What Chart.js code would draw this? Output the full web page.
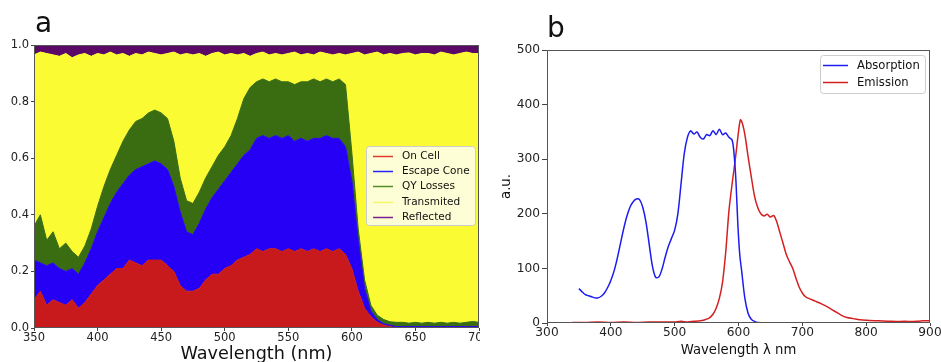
<!DOCTYPE html>
<html>
<head>
<meta charset="utf-8">
<script src="https://cdn.jsdelivr.net/npm/chart.js@4.4.0/dist/chart.umd.min.js"></script>
<style>
html, body { margin: 0; padding: 0; background: #fff; overflow: hidden; }
#wrap { position: relative; width: 941px; height: 362px; overflow: hidden; }
canvas { position: absolute; top: 0; }
.tag { position: absolute; font-family: 'DejaVu Sans'; font-size: 28px; color: #111; }
</style>
</head>
<body>
<div id="wrap">
  <canvas id="chartA" width="480" height="372" style="left:0"></canvas>
  <canvas id="chartB" width="461" height="362" style="left:480px"></canvas>
  <div class="tag" style="left:35px;top:6px">a</div>
  <div class="tag" style="left:547px;top:11px">b</div>
</div>
<script>
// panel a - light fate per wavelength (stacked fractions)
const wavelengths = [350,355,360,365,370,375,380,385,390,395,400,405,410,415,420,425,430,435,440,445,
  450,455,460,465,470,475,480,485,490,495,500,505,510,515,520,525,530,535,540,545,
  550,555,560,565,570,575,580,585,590,595,600,605,610,615,620,625,630,635,640,645,
  650,655,660,665,670,675,680,685,690,695,700];

const onCell = [.10,.13,.08,.10,.09,.08,.10,.07,.09,.12, .15,.17,.19,.21,.21,.24,.23,.22,.24,.24,
  .24,.22,.20,.15,.13,.13,.14,.17,.19,.19, .21,.22,.24,.25,.26,.28,.27,.28,.28,.27,
  .28,.27,.28,.27,.28,.27,.28,.27,.28,.26, .21,.13,.07,.04,.02,.01,.005,0,0,0,
  0,0,0,0,0,0,0,0,0,0,0];
const escapeCone = [.14,.10,.14,.13,.12,.12,.11,.12,.14,.16, .19,.22,.25,.27,.30,.30,.33,.35,.34,.35,
  .34,.34,.30,.26,.21,.20,.23,.25,.27,.30, .31,.33,.34,.36,.37,.39,.41,.39,.40,.40,
  .40,.39,.39,.39,.39,.40,.40,.40,.39,.38, .31,.18,.07,.02,.01,.005,.005,.005,.005,.005,
  .005,.005,.005,.005,.005,.005,.005,.005,.005,.005,.005];
const qyLosses = [.12,.17,.09,.11,.07,.10,.06,.06,.06,.07, .09,.11,.12,.13,.15,.16,.17,.17,.18,.18,
  .18,.18,.16,.12,.11,.11,.11,.11,.11,.12, .12,.13,.16,.20,.22,.20,.20,.20,.20,.20,
  .19,.20,.20,.21,.21,.20,.20,.20,.21,.22, .10,.04,.03,.02,.015,.015,.012,.015,.015,.012,
  .015,.012,.015,.012,.015,.012,.015,.012,.015,.018,.015];
const transmitted = [.605,.575,.66,.625,.68,.67,.685,.715,.68,.61, .54,.465,.415,.355,.31,.26,.24,.225,.215,.20,
  .205,.23,.315,.435,.52,.525,.49,.43,.40,.365, .325,.29,.225,.16,.11,.10,.095,.095,.09,.095,
  .10,.115,.095,.10,.085,.105,.09,.095,.09,.105, .35,.625,.795,.89,.93,.935,.948,.945,.95,.955,
  .945,.953,.95,.948,.955,.953,.945,.953,.955,.947,.95];
const reflected = [.035,.025,.03,.035,.04,.03,.045,.035,.03,.04, .03,.035,.025,.035,.03,.04,.03,.035,.025,.03,
  .035,.03,.025,.035,.03,.035,.03,.04,.03,.025, .035,.03,.035,.03,.04,.03,.025,.035,.03,.035,
  .03,.025,.035,.03,.035,.025,.03,.035,.03,.035, .03,.025,.035,.03,.025,.035,.03,.035,.03,.028,
  .035,.03,.03,.035,.025,.03,.035,.03,.025,.03,.03];
const yTicksA = [0, 0.2, 0.4, 0.6, 0.8, 1.0];

// panel b - absorption and emission spectra
const absWl = [350,355,360,365,370,375,380,385,390,395,400,405,410,415,420,425,430,435,440,445,
  450,455,460,465,470,475,480,485,490,495,500,505,510,515,520,525,530,535,540,545,
  550,555,560,565,570,575,580,585,590,593,596,599,602,605,610,615,620,625,630,640,660,700,750,800];
const absVal = [63,57,52,50,48,46,46,49,55,65,78,95,118,145,172,195,212,222,227,226,
  212,185,145,105,84,84,98,120,140,155,170,200,255,310,340,352,346,350,340,337,
  345,343,352,345,355,345,348,340,335,310,260,180,125,95,45,18,7,3,1,0,0,0,0,0];
const emWl = [340,360,380,400,420,440,460,480,500,510,520,530,540,545,550,555,560,565,570,575,
  580,585,590,595,600,603,606,610,615,620,625,630,635,640,645,650,655,660,665,670,
  675,680,685,690,695,700,705,710,720,730,740,750,760,770,780,790,800,820,840,860,880,890,900];
const emVal = [1,1,2,1,2,1,2,2,2,3,2,3,4,5,7,10,16,27,45,75,
  130,205,255,300,350,372,366,345,305,268,233,212,200,196,199,194,197,185,165,145,
  125,112,100,82,66,55,48,45,40,35,29,22,15,10,8,6,5,4,3,3,3,4,4];

const FONT = 'DejaVu Sans';

const frame = {
  id: 'frame',
  afterDatasetsDraw(chart) {
    const { ctx, chartArea: a } = chart;
    ctx.save();
    ctx.strokeStyle = '#555';
    ctx.lineWidth = 1;
    ctx.strokeRect(a.left + 0.5, a.top + 0.5, a.right - a.left - 1, a.bottom - a.top - 1);
    ctx.restore();
  }
};

const boxLegend = {
  id: 'boxLegend',
  afterDraw(chart, args, o) {
    const { ctx, chartArea: a } = chart;
    const x = a.left + o.left, y = a.top + o.top;
    ctx.save();
    ctx.fillStyle = 'rgba(255,255,255,0.8)';
    ctx.strokeStyle = '#cccccc';
    ctx.lineWidth = 1;
    ctx.beginPath();
    if (ctx.roundRect) ctx.roundRect(x + 0.5, y + 0.5, o.width, o.height, 3);
    else ctx.rect(x + 0.5, y + 0.5, o.width, o.height);
    ctx.fill();
    ctx.stroke();
    ctx.font = o.size + 'px "' + FONT + '"';
    ctx.textBaseline = 'middle';
    chart.data.datasets.forEach((ds, i) => {
      const ry = Math.round(y + o.first + i * o.step) + 0.5;
      ctx.strokeStyle = ds.legendColor || ds.borderColor;
      ctx.lineWidth = 1.5;
      ctx.beginPath();
      ctx.moveTo(x + o.pad, ry);
      ctx.lineTo(x + o.pad + o.line, ry);
      ctx.stroke();
      ctx.fillStyle = '#111';
      ctx.fillText(ds.label, x + o.pad + o.line + o.gap, ry);
    });
    ctx.restore();
  }
};

function area(label, values, color, legendColor, fill) {
  return {
    label: label,
    data: values,
    borderColor: color,
    backgroundColor: color,
    legendColor: legendColor,
    borderWidth: 1,
    pointRadius: 0,
    tension: 0,
    fill: fill
  };
}

new Chart(document.getElementById('chartA'), {
  type: 'line',
  data: {
    labels: wavelengths,
    datasets: [
      area('On Cell', onCell, '#c81a1c', '#e0392e', 'origin'),
      area('Escape Cone', escapeCone, '#2600f5', '#2424ff', '-1'),
      area('QY Losses', qyLosses, '#3a6d12', '#4f8f2a', '-1'),
      area('Transmited', transmitted, '#fbfb33', '#f5f56a', '-1'),
      area('Reflected', reflected, '#5a0a66', '#7a2090', '-1')
    ]
  },
  options: {
    responsive: false,
    animation: false,
    layout: { padding: { top: 45, right: 1, bottom: 7, left: 0 } },
    plugins: {
      legend: { display: false },
      tooltip: { enabled: false },
      boxLegend: { left: 332, top: 101, width: 109, height: 79, first: 10, step: 15.2, pad: 7, line: 20, gap: 9, size: 10.5 }
    },
    scales: {
      x: {
        type: 'linear',
        min: 350,
        max: 700,
        grid: { drawOnChartArea: false, drawTicks: true, tickLength: 3, color: '#444' },
        border: { display: false },
        ticks: { stepSize: 50, autoSkip: false, maxRotation: 0, padding: 0, color: '#222', font: { family: FONT, size: 11.5 } },
        title: { display: true, text: 'Wavelength (nm)', color: '#111', padding: 0, font: { family: FONT, size: 17.6 } },
        afterFit(s) { s.height = 37; s.paddingLeft = 0; s.paddingRight = 0; }
      },
      y: {
        stacked: true,
        min: 0,
        max: 1,
        grid: { drawOnChartArea: false, drawTicks: true, tickLength: 3, color: '#444' },
        border: { display: false },
        afterBuildTicks(s) { s.ticks = yTicksA.map(v => ({ value: v })); },
        ticks: { padding: 2, color: '#222', font: { family: FONT, size: 11.5 }, callback: v => v.toFixed(1) },
        afterFit(s) { s.width = 34; s.paddingTop = 0; s.paddingBottom = 0; }
      }
    }
  },
  plugins: [frame, boxLegend]
});

new Chart(document.getElementById('chartB'), {
  type: 'line',
  data: {
    datasets: [
      {
        label: 'Absorption',
        data: absWl.map((w, i) => ({ x: w, y: absVal[i] })),
        borderColor: '#1c1cf0',
        borderWidth: 1.5,
        pointRadius: 0,
        tension: 0.3,
        fill: false
      },
      {
        label: 'Emission',
        data: emWl.map((w, i) => ({ x: w, y: emVal[i] })),
        borderColor: '#d42020',
        borderWidth: 1.5,
        pointRadius: 0,
        tension: 0.3,
        fill: false
      }
    ]
  },
  options: {
    responsive: false,
    animation: false,
    layout: { padding: { top: 50, right: 11, bottom: 4, left: 0 } },
    plugins: {
      legend: { display: false },
      tooltip: { enabled: false },
      boxLegend: { left: 273, top: 5, width: 105, height: 38, first: 10, step: 17, pad: 3, line: 25, gap: 9, size: 11.6 }
    },
    scales: {
      x: {
        type: 'linear',
        min: 300,
        max: 900,
        grid: { drawOnChartArea: false, drawTicks: true, tickLength: 3, color: '#444' },
        border: { display: false },
        ticks: { stepSize: 100, autoSkip: false, maxRotation: 0, padding: 0, color: '#222', font: { family: FONT, size: 12.2 } },
        title: { display: true, text: 'Wavelength λ nm', color: '#111', padding: 0, font: { family: FONT, size: 13.2 } },
        afterFit(s) { s.height = 35; s.paddingLeft = 0; s.paddingRight = 0; }
      },
      y: {
        min: 0,
        max: 500,
        grid: { drawOnChartArea: false, drawTicks: true, tickLength: 5, color: '#444' },
        border: { display: false },
        ticks: { stepSize: 100, padding: 2, color: '#222', font: { family: FONT, size: 12.2 } },
        title: { display: true, text: 'a.u.', color: '#111', padding: { top: 19, bottom: 0 }, font: { family: FONT, size: 13.2 } },
        afterFit(s) { s.width = 67; s.paddingTop = 0; s.paddingBottom = 0; }
      }
    }
  },
  plugins: [frame, boxLegend]
});
</script>
</body>
</html>
